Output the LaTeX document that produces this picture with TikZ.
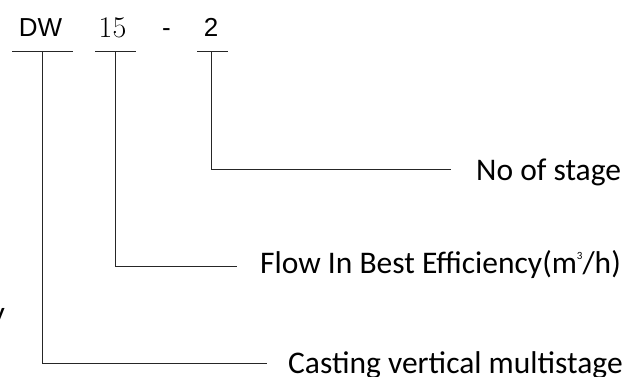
\documentclass[tikz,border=0pt]{standalone}
\usepackage{fontspec}
\setmainfont{Carlito}
\newfontfamily\arialf{Liberation Sans}
\newfontfamily\lmf{Latin Modern Roman}
\begin{document}
\begin{tikzpicture}[x=1pt,y=-1pt,
  line/.style={draw=black!85, line width=0.9pt},
  lab/.style={font=\fontsize{31.5}{36}\selectfont, anchor=base west, inner sep=0pt},
  code/.style={font=\arialf\fontsize{26}{30}\selectfont, anchor=base, inner sep=0pt}]
\useasboundingbox (0,0) rectangle (642,376);
% code letters
\node[code] (dw) at (40.5,36) {DW};
\node[code, font=\lmf\fontsize{30}{34}\selectfont] (num) at (112.5,37) {15};
\node[code] (dash) at (166.5,36) {-};
\node[code] (st) at (211,36) {2};
% bars under the code
\coordinate (dwl) at (12,51);  \coordinate (dwr) at (73,51);  \coordinate (dwt) at (42,51);
\coordinate (nul) at (95,51);  \coordinate (nur) at (136,51); \coordinate (nut) at (115,51);
\coordinate (stl) at (197,51); \coordinate (str) at (228,51); \coordinate (stt) at (211,51);
\draw[line] (dwl) -- (dwr);
\draw[line] (nul) -- (nur);
\draw[line] (stl) -- (str);
% labels
\node[lab] (lstage) at (476,180.5) {No of stage};
\node[lab] (lflow) at (260,273) {Flow In Best Efficiency(m\raisebox{0.42em}{\fontsize{11}{12}\selectfont 3}/h)};
\node[lab] (lcast) at (288,373) {Casting vertical multistage};
\node[lab, anchor=base east] (cut) at (5,323) {y};
% line ends
\coordinate (estage) at (451,169);
\coordinate (eflow) at (237,266);
\coordinate (ecast) at (267,363);
\draw[line] (stt) |- (estage);
\draw[line] (nut) |- (eflow);
\draw[line] (dwt) |- (ecast);
\end{tikzpicture}
\end{document}
